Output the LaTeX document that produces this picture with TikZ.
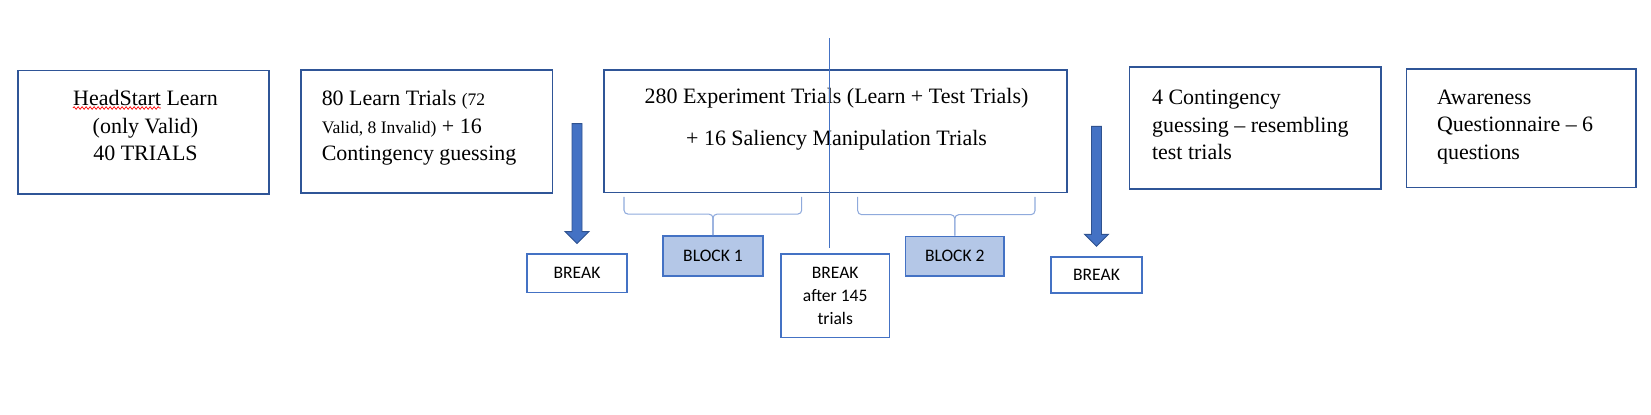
\documentclass[tikz,border=0pt]{standalone}
\usepackage{fontspec}
\setmainfont{Liberation Serif}
\newfontfamily\calfont{Carlito}
\usetikzlibrary{calc,positioning,decorations.pathmorphing}
\definecolor{boxblue}{HTML}{2F5597}
\definecolor{lineblue}{HTML}{4472C4}
\definecolor{fillblue}{HTML}{B4C7E7}
\definecolor{braceblue}{HTML}{8FAADC}
\definecolor{arrowedge}{HTML}{2F528F}
\tikzset{
	stage/.style={draw=boxblue, line width=1pt, inner sep=0pt},
	stagetext/.style={inner sep=0pt, font=\fontsize{12.5}{15.65}\selectfont},
	pause/.style={draw=lineblue, line width=1pt, align=center, font=\calfont\fontsize{10}{13.2}\selectfont},
	blockbox/.style={pause, fill=fillblue},
	brace/.style={draw=braceblue, line width=0.6pt, rounded corners=0.08cm},
	spellwave/.style={draw=red, line width=0.4pt, decorate, decoration={snake, segment length=0.08cm, amplitude=0.025cm}},
}
\begin{document}
\begin{tikzpicture}[x=0.02cm,y=-0.02cm]
\useasboundingbox (0,0) rectangle (1651,415);
% stages
\node[stage, minimum width=5.03cm, minimum height=2.47cm] (head) at (143.5,132.3) {};
\node[stage, minimum width=5.03cm, minimum height=2.46cm] (learn) at (426.7,131.5) {};
\node[stage, minimum width=9.26cm, minimum height=2.45cm] (expt) at (835.8,131.3) {};
\node[stage, minimum width=5.03cm, minimum height=2.45cm] (cont) at (1255.2,128) {};
\node[stage, minimum width=4.59cm, minimum height=2.37cm] (aware) at (1521.3,128.2) {};

\node[stagetext, align=center, anchor=north] (headtxt) at (145.5,90) {HeadStart Learn\\(only Valid)\\40 TRIALS};
\node[stagetext, align=left, anchor=north west] (learntxt) at (321.4,90) {80 Learn Trials {\fontsize{10}{12}\selectfont (72}\\{\fontsize{10}{12}\selectfont Valid, 8 Invalid)} + 16\\Contingency guessing};
\node[stagetext, align=center, anchor=north] (expttxt) at (836.5,87.5) {280 Experiment Trials (Learn + Test Trials)\\[8.6pt]+ 16 Saliency Manipulation Trials};
\node[stagetext, align=left, anchor=north west] (conttxt) at (1151.7,90) {4 Contingency\\guessing – resembling\\test trials};
\node[stagetext, align=left, anchor=north west] (awaretxt) at (1436.7,89.5) {Awareness\\Questionnaire – 6\\questions};
\draw[spellwave] ($(headtxt.north west)+(0,18)$) -- ++(88,0);

% breaks and blocks
\node[pause, minimum width=2.01cm, minimum height=0.77cm] (brk1) at (577,273.2) {BREAK};
\node[blockbox, minimum width=1.99cm, minimum height=0.8cm] (blk1) at (713,256) {BLOCK 1};
\node[pause, minimum width=2.17cm, minimum height=1.67cm] (brk2) at (835.2,295.7) {BREAK\\after 145\\trials};
\node[blockbox, minimum width=1.97cm, minimum height=0.79cm] (blk2) at (954.8,256.3) {BLOCK 2};
\node[pause, minimum width=1.83cm, minimum height=0.72cm] (brk3) at (1096.5,274.7) {BREAK};

% braces
\coordinate (b1l) at (624,197);
\coordinate (b1r) at (801.7,197);
\coordinate (b2l) at (857.7,197);
\coordinate (b2r) at (1035,197);
\draw[brace] (b1l) |- ($(blk1.north)+(0,-21)$) -- (blk1.north);
\draw[brace] (b1r) |- ($(blk1.north)+(0,-21)$) -- (blk1.north);
\draw[brace] (b2l) |- ($(blk2.north)+(0,-21)$) -- (blk2.north);
\draw[brace] (b2r) |- ($(blk2.north)+(0,-21)$) -- (blk2.north);

% cut line
\coordinate (cuttop) at (829.3,38.3);
\coordinate (cutbot) at (829.3,248.3);
\draw[lineblue, line width=0.6pt] (cuttop) -- (cutbot);

% block arrows
\foreach \brk in {brk1,brk3}{
	\coordinate (tip) at ($(\brk.north)+(0,-9.5)$);
	\draw[draw=arrowedge, fill=lineblue, line width=0.5pt] ([shift={(-5,-120)}]tip) -- ([shift={(5,-120)}]tip) -- ([shift={(5,-12)}]tip) -- ([shift={(12,-12)}]tip) -- (tip) -- ([shift={(-12,-12)}]tip) -- ([shift={(-5,-12)}]tip) -- cycle;
}
\end{tikzpicture}
\end{document}
